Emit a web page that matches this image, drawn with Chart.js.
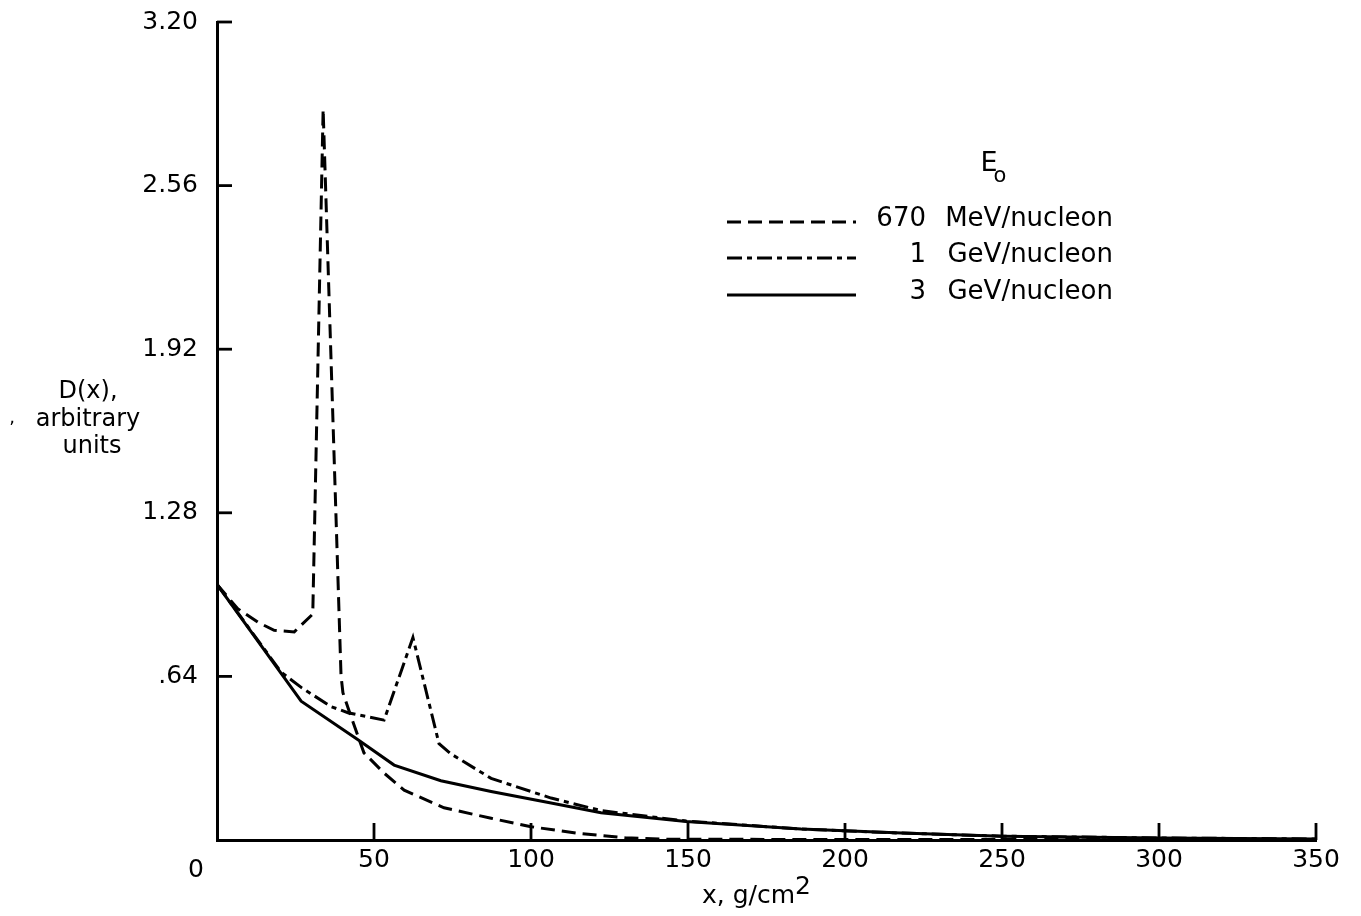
<!DOCTYPE html>
<html>
<head>
<meta charset="utf-8">
<script src="https://cdn.jsdelivr.net/npm/chart.js@4.4.1/dist/chart.umd.min.js"></script>
<style>
  html, body { margin: 0; padding: 0; background: #fff; }
  #wrap { width: 1361px; height: 916px; position: relative; }
</style>
</head>
<body>
<div id="wrap"><canvas id="depthChart"></canvas></div>
<script>
// values (x in g/cm2, D(x) in arbitrary units)
const mev670X = [0, 6.6, 13, 18.2, 24.6, 30.5, 33.8, 39.5, 40.1, 42.7, 46.8, 53.2, 59.6, 72.3, 87.3, 100, 115, 130, 142, 200, 250, 350];
const mev670Y = [1.0, 0.905, 0.852, 0.82, 0.814, 0.884, 2.858, 0.643, 0.576, 0.482, 0.341, 0.262, 0.195, 0.126, 0.085, 0.052, 0.026, 0.009, 0.003, 0.002, 0.002, 0.002];

const gev1X = [0, 20.4, 26.8, 36.3, 41.7, 53.2, 62.4, 70.7, 74.5, 87.3, 106.4, 122.3, 149.4, 186, 218, 250, 300, 350];
const gev1Y = [1.0, 0.657, 0.597, 0.522, 0.498, 0.469, 0.792, 0.377, 0.337, 0.241, 0.164, 0.115, 0.074, 0.043, 0.027, 0.015, 0.008, 0.004];

const gev3X = [0, 26.8, 44.9, 56.4, 71.3, 87.3, 106.4, 122.3, 149.4, 186, 218, 250, 300, 350];
const gev3Y = [1.0, 0.543, 0.392, 0.293, 0.232, 0.19, 0.145, 0.107, 0.072, 0.043, 0.027, 0.015, 0.008, 0.004];

const xTickValues = [0, 50, 100, 150, 200, 250, 300, 350];
const yTickValues = [0, 0.64, 1.28, 1.92, 2.56, 3.20];
const yTickLabels = ['', '.64', '1.28', '1.92', '2.56', '3.20'];

const legendNumbers = ['670', '1', '3'];
const legendUnits = ['MeV/nucleon', 'GeV/nucleon', 'GeV/nucleon'];

const FONT = '"DejaVu Sans", "Liberation Sans", Arial, sans-serif';
const dash670 = [14, 7];
const dash1 = [15, 5, 5, 5];

function toPoints(xs, ys) {
  return xs.map((x, i) => ({ x: x, y: ys[i] }));
}

// inward tick marks, axis texts and the legend box
const decorations = {
  id: 'decorations',
  beforeDraw(chart) {
    const ctx = chart.ctx;
    ctx.save();
    ctx.fillStyle = '#fff';
    ctx.fillRect(0, 0, chart.width, chart.height);
    ctx.restore();
  },
  afterDraw(chart) {
    const ctx = chart.ctx;
    const xs = chart.scales.x;
    const ys = chart.scales.y;
    const area = chart.chartArea;

    ctx.save();
    ctx.strokeStyle = '#000';
    ctx.lineWidth = 2.8;
    ctx.setLineDash([]);
    xTickValues.slice(1).forEach(v => {
      const px = xs.getPixelForValue(v);
      ctx.beginPath();
      ctx.moveTo(px, area.bottom);
      ctx.lineTo(px, area.bottom - 17);
      ctx.stroke();
    });
    yTickValues.slice(1).forEach(v => {
      const py = ys.getPixelForValue(v);
      ctx.beginPath();
      ctx.moveTo(area.left, py);
      ctx.lineTo(area.left + 15, py);
      ctx.stroke();
    });

    ctx.fillStyle = '#000';
    ctx.textBaseline = 'middle';

    // origin label
    ctx.font = '25px ' + FONT;
    ctx.textAlign = 'center';
    ctx.fillText('0', 196, 870);

    // y title
    ctx.font = '24px ' + FONT;
    ctx.fillText('D(x),', 88, 392);
    ctx.fillText('arbitrary', 88, 420);
    ctx.fillText('units', 92, 447);
    ctx.font = '18px ' + FONT;
    ctx.fillText(',', 12, 418);

    // x title
    ctx.textAlign = 'left';
    ctx.textBaseline = 'alphabetic';
    ctx.font = '25px ' + FONT;
    ctx.fillText('x, g/cm', 702, 903);
    const w = ctx.measureText('x, g/cm').width;
    ctx.fillText('2', 702 + w, 894);

    // legend
    ctx.textBaseline = 'middle';
    ctx.textAlign = 'center';
    ctx.font = '27px ' + FONT;
    ctx.fillText('E', 989, 164);
    ctx.font = '21px ' + FONT;
    ctx.fillText('o', 1000, 177);

    const rows = [222, 258, 295];
    const dashes = [dash670, dash1, []];
    rows.forEach((y, i) => {
      ctx.lineWidth = 2.8;
      ctx.setLineDash(dashes[i]);
      ctx.beginPath();
      ctx.moveTo(727, y);
      ctx.lineTo(856, y);
      ctx.stroke();
      ctx.setLineDash([]);
      ctx.font = '26px ' + FONT;
      ctx.textAlign = 'right';
      ctx.fillText(legendNumbers[i], 926, y - 3);
      ctx.fillText(legendUnits[i], 1113, y - 3);
    });
    ctx.restore();
  }
};

const ctx = document.getElementById('depthChart').getContext('2d');
new Chart(ctx, {
  type: 'line',
  data: {
    datasets: [
      {
        label: '670 MeV/nucleon',
        data: toPoints(mev670X, mev670Y),
        borderColor: '#000',
        borderWidth: 3,
        borderDash: dash670,
        pointRadius: 0,
        tension: 0,
        fill: false
      },
      {
        label: '1 GeV/nucleon',
        data: toPoints(gev1X, gev1Y),
        borderColor: '#000',
        borderWidth: 3,
        borderDash: dash1,
        pointRadius: 0,
        tension: 0,
        fill: false
      },
      {
        label: '3 GeV/nucleon',
        data: toPoints(gev3X, gev3Y),
        borderColor: '#000',
        borderWidth: 3,
        pointRadius: 0,
        tension: 0,
        fill: false
      }
    ]
  },
  options: {
    responsive: true,
    maintainAspectRatio: false,
    animation: false,
    devicePixelRatio: 1,
    layout: { padding: { left: 0, right: 45, top: 22, bottom: 0 } },
    plugins: {
      legend: { display: false },
      tooltip: { enabled: false }
    },
    scales: {
      x: {
        type: 'linear',
        min: 0,
        max: 350,
        afterBuildTicks: (scale) => { scale.ticks = xTickValues.map(v => ({ value: v })); },
        afterFit: (scale) => {
          scale.height = 76;
          scale.paddingLeft = 0;
          scale.paddingRight = 0;
        },
        grid: { display: false, drawTicks: false },
        border: { display: true, color: '#000', width: 3 },
        ticks: {
          padding: 5,
          color: '#000',
          font: { family: FONT, size: 25 },
          maxRotation: 0,
          autoSkip: false,
          callback: (v) => v === 0 ? '' : String(v)
        }
      },
      y: {
        type: 'linear',
        min: 0,
        max: 3.2,
        afterBuildTicks: (scale) => { scale.ticks = yTickValues.map(v => ({ value: v })); },
        afterFit: (scale) => {
          scale.width = 217;
          scale.paddingTop = 0;
          scale.paddingBottom = 0;
        },
        grid: { display: false, drawTicks: false },
        border: { display: true, color: '#000', width: 3 },
        ticks: {
          padding: 19,
          color: '#000',
          font: { family: FONT, size: 25 },
          autoSkip: false,
          callback: (v, i) => yTickLabels[i]
        }
      }
    }
  },
  plugins: [decorations]
});
</script>
</body>
</html>
